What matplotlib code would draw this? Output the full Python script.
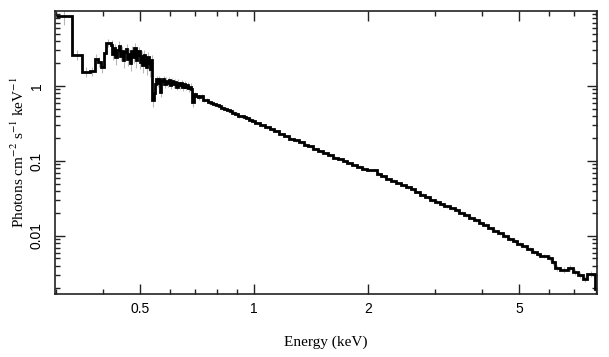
import numpy as np
import matplotlib
matplotlib.use('Agg')
import matplotlib.pyplot as plt

plt.rcParams['mathtext.fontset'] = 'stix'

# bin edges (keV)
energy_edges = [
    0.300, 0.331, 0.352, 0.369, 0.380, 0.387, 0.394, 0.402, 0.407, 0.419,
    0.423, 0.427, 0.431, 0.435, 0.439, 0.443, 0.447, 0.451, 0.455, 0.459,
    0.463, 0.467, 0.471, 0.475, 0.479, 0.483, 0.487, 0.491, 0.495, 0.499,
    0.503, 0.507, 0.511, 0.515, 0.519, 0.523, 0.527, 0.531, 0.535, 0.539,
    0.543, 0.548, 0.552, 0.556, 0.561, 0.565, 0.570, 0.575, 0.580, 0.585,
    0.590, 0.595, 0.600, 0.605, 0.611, 0.617, 0.623, 0.629, 0.635, 0.641,
    0.647, 0.653, 0.659, 0.665, 0.671, 0.677, 0.683, 0.688, 0.694,
    0.703, 0.712, 0.722, 0.733, 0.744, 0.756, 0.768, 0.780, 0.793, 0.806,
    0.820, 0.834, 0.848, 0.862, 0.877, 0.892, 0.907, 0.923, 0.939, 0.955,
    0.972, 0.989, 1.006,
    1.036, 1.067, 1.099, 1.132, 1.166, 1.201, 1.237, 1.274, 1.312, 1.351,
    1.392, 1.434, 1.477, 1.521, 1.567, 1.614, 1.662, 1.712, 1.763, 1.816,
    1.870, 1.926, 1.984, 2.044, 2.105, 2.168, 2.233, 2.300, 2.369, 2.440,
    2.513, 2.588, 2.666, 2.746, 2.828, 2.913, 3.000, 3.09, 3.18, 3.28,
    3.38, 3.48, 3.58, 3.69, 3.80, 3.91, 4.03, 4.15, 4.27, 4.40,
    4.53, 4.67, 4.81, 4.95, 5.10, 5.25, 5.41, 5.57, 5.68,
    5.96, 6.11, 6.22, 6.41, 6.73, 6.94, 7.15, 7.38, 7.56, 7.93, 8.10,
]

# unfolded flux, photons cm^-2 s^-1 keV^-1
flux = [
    8.6, 2.6, 1.54, 1.58, 2.29, 2.09, 1.79, 2.75, 3.74,
    3.5, 2.7, 3.2, 2.4, 3.0, 3.4, 2.5, 2.9, 2.2, 2.8,
    3.1, 2.3, 2.7, 2.0, 2.9, 2.4, 3.2, 2.2, 2.6, 2.9,
    2.1, 2.5, 1.9, 2.6, 2.2, 1.8, 2.4, 2.0, 1.7, 2.2,
    0.66, 0.80, 1.05, 1.22, 1.10, 1.25, 0.82, 1.15, 1.22, 1.05,
    1.18, 1.08, 1.20, 1.02, 1.15, 1.05, 1.12, 0.98, 1.10, 1.02,
    1.08, 0.96, 1.05, 0.98, 1.02, 0.93, 0.98, 0.90, 0.62,
    0.78, 0.74, 0.71, 0.73, 0.66, 0.65, 0.61, 0.60, 0.575, 0.558,
    0.533, 0.509, 0.494, 0.479, 0.457, 0.437, 0.423, 0.398, 0.392, 0.380,
    0.369, 0.354, 0.341,
    0.320, 0.300, 0.281, 0.263, 0.250, 0.230, 0.215, 0.198, 0.188, 0.177,
    0.165, 0.157, 0.145, 0.135, 0.127, 0.119, 0.111, 0.106, 0.100, 0.0944,
    0.0888, 0.0838, 0.0789, 0.0760, 0.0755, 0.0680, 0.0625, 0.0577, 0.0548, 0.0507,
    0.0475, 0.0446, 0.0420, 0.0384, 0.0354, 0.0328, 0.0298, 0.0284, 0.0265, 0.0249,
    0.0233, 0.0222, 0.0205, 0.0191, 0.0176, 0.0163, 0.0150, 0.0141, 0.0127, 0.0117,
    0.0108, 0.0100, 0.00905, 0.00855, 0.00789, 0.00724, 0.00665, 0.00612, 0.00575,
    0.00541, 0.00509, 0.00450, 0.00374, 0.00352, 0.00374, 0.00331, 0.00302,
    0.00267, 0.00311, 0.00197,
]

# relative 1-sigma errors (grey bars)
rel_err = [
    0.25, 0.15, 0.15, 0.14, 0.15, 0.15, 0.16, 0.14, 0.12,
    0.16, 0.18, 0.15, 0.20, 0.16, 0.18, 0.14, 0.17, 0.20, 0.16,
    0.18, 0.20, 0.17, 0.22, 0.18, 0.16, 0.18, 0.20, 0.17, 0.15,
    0.20, 0.18, 0.22, 0.17, 0.19, 0.22, 0.18, 0.20, 0.22, 0.18,
    0.20, 0.16, 0.12, 0.10, 0.11, 0.10, 0.14, 0.10, 0.11, 0.10,
    0.11, 0.10, 0.11, 0.10, 0.11, 0.10, 0.11, 0.10, 0.11, 0.10,
    0.11, 0.10, 0.11, 0.10, 0.11, 0.10, 0.11, 0.12, 0.15,
    0.08, 0.08, 0.08, 0.07, 0.07, 0.07, 0.07, 0.06, 0.06, 0.06,
    0.06, 0.06, 0.05, 0.05, 0.05, 0.05, 0.05, 0.05, 0.05, 0.05,
    0.05, 0.05, 0.05,
    0.04, 0.04, 0.04, 0.04, 0.04, 0.04, 0.04, 0.04, 0.04, 0.04,
    0.04, 0.04, 0.04, 0.04, 0.04, 0.04, 0.04, 0.04, 0.04, 0.04,
    0.04, 0.04, 0.04, 0.04, 0.04, 0.04, 0.04, 0.04, 0.04, 0.04,
    0.04, 0.04, 0.04, 0.04, 0.04, 0.04, 0.05, 0.05, 0.05, 0.05,
    0.05, 0.05, 0.05, 0.05, 0.05, 0.05, 0.05, 0.05, 0.05, 0.05,
    0.06, 0.06, 0.06, 0.06, 0.06, 0.06, 0.06, 0.06, 0.06,
    0.07, 0.08, 0.08, 0.08, 0.08, 0.09, 0.09, 0.10,
    0.10, 0.10, 0.15,
]

x_major = [0.5, 1, 2, 5]
x_major_labels = ['0.5', '1', '2', '5']
x_minor = [0.3, 0.4, 0.6, 0.7, 0.8, 0.9, 3, 4, 6, 7, 8]
y_major = [0.01, 0.1, 1]
y_major_labels = ['0.01', '0.1', '1']

edges = np.array(energy_edges)
f = np.array(flux)
centers = np.sqrt(edges[:-1] * edges[1:])
err = f * np.array(rel_err)

fig = plt.figure(figsize=(6.09, 3.57), dpi=100)
ax = fig.add_axes([55 / 609, 1 - 294 / 357, 542 / 609, 283 / 357])

ax.errorbar(centers, f, yerr=err, fmt='none', ecolor='0.72', elinewidth=0.8, capsize=0, zorder=1)
ax.stairs(f, edges, color='black', linewidth=2.0, baseline=None, zorder=2)

ax.set_xscale('log')
ax.set_yscale('log')
ax.set_xlim(0.2985, 8.03)
ax.set_ylim(0.00168, 10.0)

ax.set_xticks(x_major)
ax.set_xticklabels(x_major_labels)
ax.set_xticks(x_minor, minor=True)
ax.set_xticklabels([], minor=True)
ax.set_yticks(y_major)
ax.set_yticklabels(y_major_labels)
yminor = [m * d for d in [0.001, 0.01, 0.1, 1] for m in range(2, 10)]
ax.set_yticks([v for v in yminor if 0.00168 < v < 10], minor=True)
ax.set_yticklabels([], minor=True)

ax.tick_params(which='both', direction='in', top=True, right=True, colors='#222222', width=1.0)
ax.tick_params(which='major', length=7)
ax.tick_params(which='minor', length=3.5)
ax.tick_params(axis='x', pad=6)
ax.tick_params(axis='y', pad=8)
for lab in ax.get_xticklabels() + ax.get_yticklabels():
    lab.set_fontfamily('Liberation Sans')
    lab.set_fontsize(10)
    lab.set_color('black')
for lab in ax.get_yticklabels():
    lab.set_rotation(90)
    lab.set_va('center')

for s in ax.spines.values():
    s.set_linewidth(1.2)
    s.set_color('#222222')

ax.set_xlabel('Energy (keV)', family='Liberation Serif', fontsize=11, labelpad=14)
ax.set_ylabel(r'Photons cm$^{-2}$ s$^{-1}$ keV$^{-1}$', family='Liberation Serif', fontsize=11, labelpad=2)

fig.savefig('out.png', dpi=100)
